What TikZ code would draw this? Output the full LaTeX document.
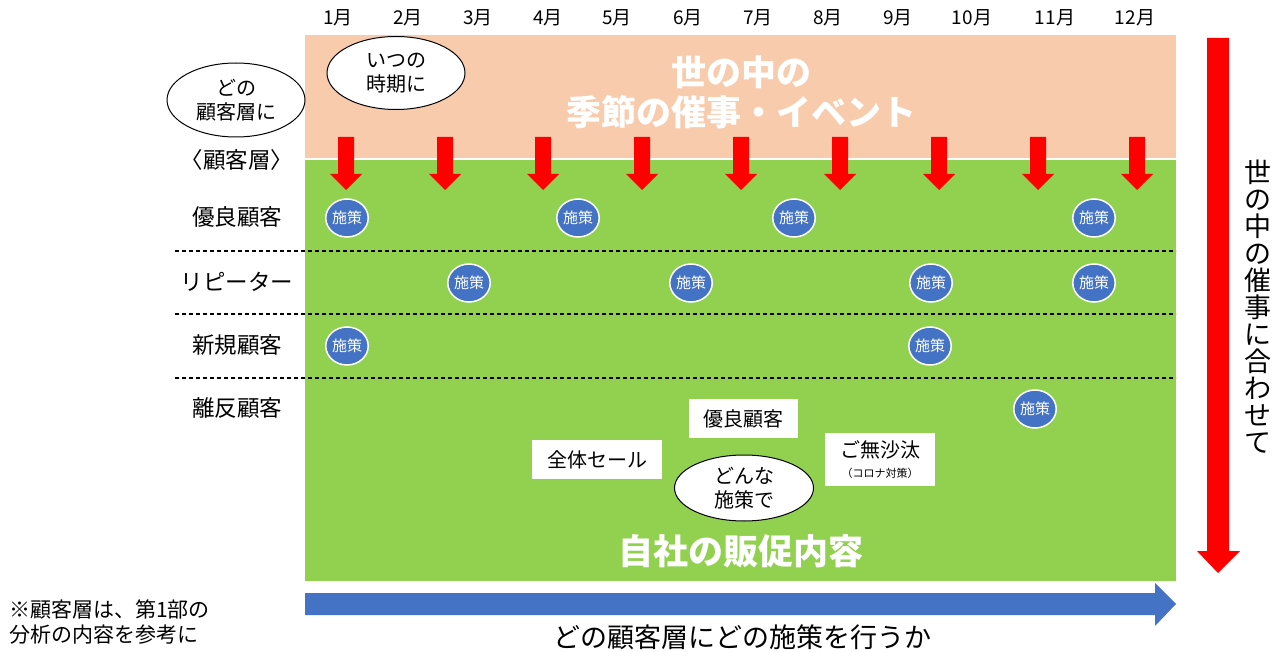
\documentclass[tikz,border=0pt]{standalone}
\usepackage{fontspec}
\setmainfont{Noto Sans CJK JP}
\usetikzlibrary{shapes.geometric}
\definecolor{peach}{HTML}{F8CBAD}
\definecolor{grn}{HTML}{92D050}
\definecolor{blu}{HTML}{4472C4}
\definecolor{rd}{HTML}{FF0000}
\newcommand\myfs[2]{\fontsize{#1}{#2}\selectfont}
\tikzset{
  month/.style={font=\myfs{19}{22}, inner sep=0pt},
  rowlab/.style={font=\myfs{22.5}{26}, inner sep=0pt},
  bubble/.style={ellipse, draw=black, line width=1pt, fill=white, inner sep=0pt, align=center, font=\myfs{20}{23.5}},
  sak/.style={ellipse, draw=white, line width=1.5pt, fill=blu, minimum width=42pt, minimum height=38pt, inner sep=0pt, text=white, font=\myfs{15}{17}},
  wbox/.style={fill=white, inner sep=0pt, align=center, font=\myfs{20}{23}},
  title/.style={text=white, font=\bfseries\myfs{35}{40}, align=center, inner sep=0pt},
  sep/.style={draw=black, line width=1.3pt, dash pattern=on 4pt off 3pt},
}
\begin{document}
\begin{tikzpicture}[x=1pt,y=-1pt]
\useasboundingbox (0,0) rectangle (1274,652);
\fill[white] (0,0) rectangle (1274,652);
% panels
\fill[peach] (305,35) rectangle (1176,158);
\fill[grn] (305,159.6) rectangle (1176,581);
% months
\foreach \m/\x in {1/338,2/408,3/478,4/548,5/617,6/688,7/758,8/828,9/898,10/972,11/1055,12/1135}
  \node[month] (m\m) at (\x,18) {\m 月};
% titles
\node[title] (t1) at (741,92) {世の中の\\季節の催事・イベント};
\node[title] (t2) at (741,551) {自社の販促内容};
% small red arrows
\foreach \c in {346,445,543,642,741,840,939,1038,1137}
  \fill[rd] (\c-8,137) -- (\c+8,137) -- (\c+8,174) -- (\c+16,174) -- (\c,190) -- (\c-16,174) -- (\c-8,174) -- cycle;
% bubbles
\node[bubble, minimum width=138pt, minimum height=74pt] (b1) at (236,100) {どの\\顧客層に};
\node[bubble, minimum width=138pt, minimum height=73pt] (b2) at (396,73) {いつの\\時期に};
\node[rowlab] (hdr) at (237,160) {〈顧客層〉};
% row labels
\node[rowlab] (r1) at (237,217) {優良顧客};
\node[rowlab] (r2) at (237,282) {リピーター};
\node[rowlab] (r3) at (237,345) {新規顧客};
\node[rowlab] (r4) at (237,408) {離反顧客};
% separators
\coordinate (d1a) at (175,251); \coordinate (d1b) at (1176,251);
\coordinate (d2a) at (175,314); \coordinate (d2b) at (1176,314);
\coordinate (d3a) at (175,378); \coordinate (d3b) at (1176,378);
\draw[sep] (d1a) -- (d1b);
\draw[sep] (d2a) -- (d2b);
\draw[sep] (d3a) -- (d3b);
% measures
\node[sak] (s1) at (347,218) {施策};
\node[sak] (s2) at (578,218) {施策};
\node[sak] (s3) at (794,218) {施策};
\node[sak] (s4) at (1094,218) {施策};
\node[sak] (s5) at (469,283) {施策};
\node[sak] (s6) at (691,283) {施策};
\node[sak] (s7) at (931,283) {施策};
\node[sak] (s8) at (1094,283) {施策};
\node[sak] (s9) at (347,346) {施策};
\node[sak] (s10) at (930,346) {施策};
\node[sak] (s11) at (1035,409) {施策};
% white boxes
\node[wbox, minimum width=109pt, minimum height=39pt] (w1) at (743.5,418.5) {優良顧客};
\node[wbox, minimum width=130pt, minimum height=39pt] (w2) at (597,459.5) {全体セール};
\node[wbox, minimum width=110pt, minimum height=53pt] (w3) at (880,459.5) {ご無沙汰\\[-3pt]{\myfs{11}{13}（コロナ対策）}};
\node[bubble, minimum width=139pt, minimum height=66pt] (b3) at (744,488) {どんな\\施策で};
% blue arrow
\fill[blu] (305,593) -- (1155,593) -- (1155,583) -- (1176,604) -- (1155,626) -- (1155,615) -- (305,615) -- cycle;
\node[font=\myfs{27}{30}, inner sep=0pt] (bt) at (742,637) {どの顧客層にどの施策を行うか};
\node[font=\myfs{21}{25}, inner sep=0pt, align=left, anchor=west] (note) at (9,622) {※顧客層は、第1部の\\分析の内容を参考に};
% right red arrow
\fill[rd] (1207,38) -- (1229,38) -- (1229,551) -- (1240,551) -- (1218,573) -- (1197,551) -- (1207,551) -- cycle;
\node[font=\myfs{27}{27}, inner sep=0pt, align=center] (vt) at (1258,307) {世\\の\\中\\の\\催\\事\\に\\合\\わ\\せ\\て};
\end{tikzpicture}
\end{document}
